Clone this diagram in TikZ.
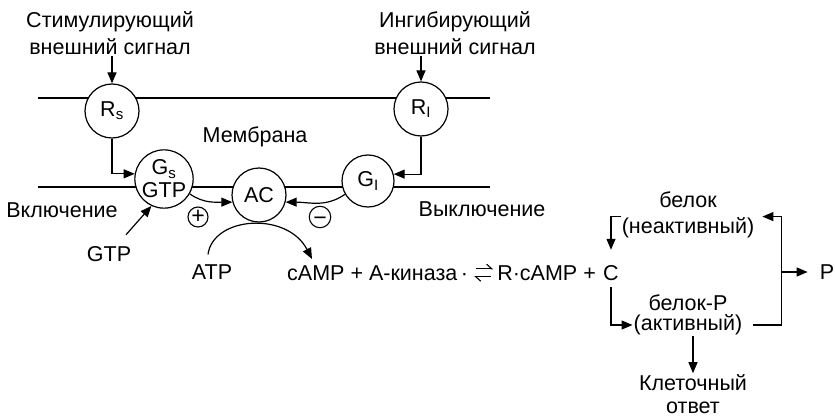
\documentclass[tikz,border=0pt]{standalone}
\usepackage{fontspec}
\setmainfont{Liberation Sans}
\usetikzlibrary{arrows.meta,positioning}
\tikzstyle{mol}=[circle,draw,line width=1.2pt,fill=white,inner sep=0pt,minimum size=54pt,align=center,font=\fontsize{21.5}{23}\selectfont]
\tikzstyle{sign}=[circle,draw,line width=1.1pt,inner sep=0pt,minimum size=20pt,font=\fontsize{23}{23}\selectfont]
\tikzstyle{lbl}=[inner sep=1pt,align=center,font=\fontsize{21.5}{27}\selectfont]
\tikzstyle{arr}=[-{Triangle[length=11pt,width=9pt]},line width=1.2pt]
\tikzstyle{harp}=[-{Straight Barb[left,length=5pt,width=9pt]},line width=1.1pt]
\tikzstyle{memb}=[line width=1.4pt]

\begin{document}
\begin{tikzpicture}[x=1pt,y=-1pt]
\useasboundingbox (0,0) rectangle (835,417);
% membrane
\draw[memb] (38,98) -- (490,98);
\draw[memb] (38,187) -- (490,187);
\node[mol] (Rs) at (112,111) {R\textsubscript{s}};
\node[mol] (Ri) at (421,109) {R\textsubscript{I}};
\node[mol] (Gs) at (164,179) {G\textsubscript{s}\\GTP};
\node[mol] (AC) at (259,195) {AC};
\node[mol,minimum size=52pt] (Gi) at (368,181) {G\textsubscript{I}};
\node[sign] (plus) at (198,217) {+};
\node[sign] (minus) at (320,217) {\vphantom{+}\raisebox{-3.5pt}{−}};
% labels
\node[lbl] (sigS) at (110,33) {Стимулирующий\\внешний сигнал};
\node[lbl] (sigI) at (455,33) {Ингибирующий\\внешний сигнал};
\node[lbl] (membr) at (255,137) {Мембрана};
\node[lbl] (on) at (62,210) {Включение};
\node[lbl] (off) at (482,209) {Выключение};
\node[lbl] (gtp) at (109,254) {GTP};
\node[lbl] (atp) at (212,272) {ATP};
% reaction
\node[lbl,anchor=base west] (camp) at (286,280) {cAMP + A-киназа\,·};
\node[lbl,anchor=base] (kC) at (611,280) {C};
\node[lbl,base left=5pt of kC] (rcamp) {R·cAMP +};
\node[lbl] (bel) at (688,200) {белок};
\node[lbl] (inact) at (688,228) {(неактивный)};
\node[lbl] (belP) at (688,303) {белок-P};
\node[lbl] (act) at (688,325) {(активный)};
\node[lbl] (P) at (827,272) {P};
\node[lbl,font=\fontsize{21.5}{23}\selectfont] (resp) at (693,394) {Клеточный\\ответ};
% arrows
\draw[arr] (sigS.south -| Rs.north) -- (Rs.north);
\draw[arr] (sigI.south -| Ri.north) -- (Ri.north);
\draw[arr] (Rs.south) |- (Gs.170);
\draw[arr] (Ri.south) |- (Gi.15);
\draw[arr] (Gs.-30) to[out=-35,in=180] (AC.195);
\draw[arr] (Gi.210) to[out=-145,in=0] (AC.-15);
\draw[arr,shorten <=14pt] (gtp) -- (Gs.245);
\draw[arr] ([xshift=-4pt,yshift=9pt]atp.north) .. controls +(5,-38) and +(-25,-48) .. ([xshift=26pt,yshift=5pt]camp.north west);
\draw[harp] ([xshift=7pt,yshift=4pt]camp.east) -- ([xshift=-3pt,yshift=4pt]rcamp.west);
\draw[harp] ([xshift=-5pt,yshift=-4pt]rcamp.west) -- ([xshift=5pt,yshift=-4pt]camp.east);
\draw[arr,shorten >=14pt] (inact.north west) -| (kC.north);
\draw[arr,shorten <=6pt] (kC.south) |- (act.west);
\draw[arr,shorten >=7pt] ([xshift=10pt]act.east) -- ++(28,0) coordinate (loopB) |- (inact.north east);
\draw[arr,shorten >=11pt] (loopB |- P.west) -- (P.west);
\draw[arr] (act.south -| resp.north) -- (resp.north);
\end{tikzpicture}
\end{document}
